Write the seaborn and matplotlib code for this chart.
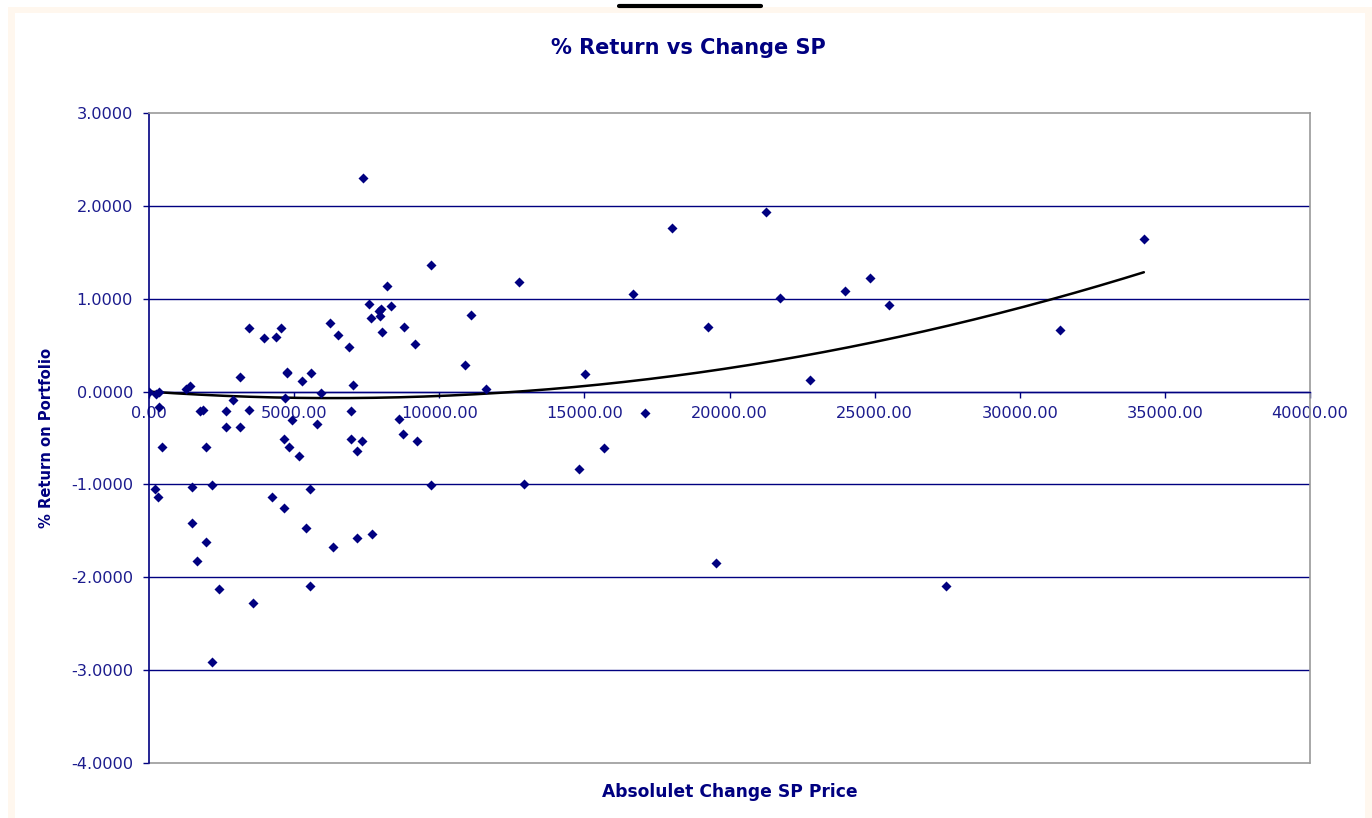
#!/usr/bin/env python3
# -*- coding: utf-8 -*-

# import modules
import numpy as np
import pandas as pd
import matplotlib
matplotlib.use("Agg")
import matplotlib.pyplot as plt
from matplotlib.patches import Rectangle
from matplotlib.lines import Line2D
from matplotlib.ticker import FormatStrFormatter
import seaborn as sns

sns.set_style("white")
plt.rcParams['font.family'] = ['DejaVu Sans']

# data: absolute change in SP price vs % return
change_sp = [
    0, 231, 352, 345, 462, 197, 310, 1283, 1403, 1483,
    1483, 1655, 1766, 1862, 1979, 1979, 2162, 2162, 2414, 2662,
    2645, 2897, 3152, 3128, 3455, 3462, 3566, 3979, 4231, 4369,
    4541, 4645, 4738, 4759, 4690, 4645, 4807, 4921, 5172, 5266,
    5576, 5772, 5931, 5531, 5403, 5531, 6241, 6345, 6507, 6903,
    7024, 6966, 6955, 7334, 7172, 7172, 7379, 7586, 7634, 7690,
    7921, 7979, 7955, 8014, 8207, 8324, 8783, 8621, 8738, 9172,
    9241, 9703, 9714, 10886, 11093, 11610, 12748, 12921, 14817, 15024,
    15690, 16669, 17093, 18014, 19255, 19541, 21266, 21724, 22759, 23990,
    24828, 25507, 27472, 31393, 34276,
]
pct_return = [
    0.000, -0.025, 0.000, -0.161, -0.595, -1.047, -1.130, 0.027, 0.065, -1.030,
    -1.418, -1.827, -0.205, -0.197, -0.595, -1.625, -1.004, -2.917, -2.124, -0.210,
    -0.377, -0.088, 0.156, -0.384, -0.197, 0.681, -2.279, 0.581, -1.130, 0.592,
    0.681, -1.256, 0.197, 0.215, -0.068, -0.509, -0.595, -0.301, -0.694, 0.113,
    0.199, -0.352, -0.011, -1.047, -1.471, -2.099, 0.739, -1.676, 0.610, 0.484,
    0.072, -0.212, -0.509, -0.535, -0.635, -1.572, 2.296, 0.940, 0.797, -1.529,
    0.872, 0.890, 0.818, 0.643, 1.138, 0.922, 0.696, -0.296, -0.452, 0.513,
    -0.536, -1.004, 1.364, 0.287, 0.826, 0.029, 1.177, -0.994, -0.836, 0.191,
    -0.606, 1.052, -0.226, 1.762, 0.700, -1.841, 1.930, 1.009, 0.129, 1.080,
    1.224, 0.936, -2.099, 0.667, 1.644,
]
y_ticks = [-4, -3, -2, -1, 0, 1, 2, 3]
x_ticks = [0, 5000, 10000, 15000, 20000, 25000, 30000, 35000, 40000]

df = pd.DataFrame({"change": change_sp, "ret": pct_return})

# order 2 trendline with the intercept set to zero
xs = np.asarray(change_sp, dtype=float)
ys = np.asarray(pct_return, dtype=float)
coef, *_ = np.linalg.lstsq(np.column_stack([xs, xs ** 2]), ys, rcond=None)
trend_x = np.linspace(xs.min(), xs.max(), 200)
trend = pd.DataFrame({"change": trend_x,
                      "ret": coef[0] * trend_x + coef[1] * trend_x ** 2})

navy = "#000080"
tick_col = "#1c1c8e"
frame_gray = "#9a9a9a"

fig = plt.figure(figsize=(13.72, 8.18), dpi=100)
fig.patch.set_facecolor("white")

# cream frame round the chart area (pixel based on 1372x818)
W, H = 1372.0, 818.0
fig.add_artist(Rectangle((8 / W, 0), (W - 8) / W, (H - 7) / H,
                         transform=fig.transFigure, facecolor="#fff7ee",
                         edgecolor="none", zorder=-10))
fig.add_artist(Rectangle((15 / W, 0), (1365 - 15) / W, (H - 13) / H,
                         transform=fig.transFigure, facecolor="white",
                         edgecolor="none", zorder=-9))
# underline of the cut-off caption at the top
fig.add_artist(Line2D([619 / W, 761 / W], [1 - 6 / H, 1 - 6 / H],
                      transform=fig.transFigure, color="black", lw=3))

ax = fig.add_axes([149 / W, 55 / H, 1161 / W, 650 / H])
ax.set_facecolor("white")

# scatter points
sns.scatterplot(data=df, x="change", y="ret", ax=ax, marker="D", s=26,
                color=navy, edgecolor=navy, linewidth=0, zorder=4, legend=False)

# trendline
sns.lineplot(data=trend, x="change", y="ret", ax=ax, color="black", lw=1.8,
             zorder=3, legend=False)

ax.set_xlim(0, 40000)
ax.set_ylim(-4, 3)
ax.set_xticks(x_ticks)
ax.set_yticks(y_ticks)
ax.xaxis.set_major_formatter(FormatStrFormatter("%.2f"))
ax.yaxis.set_major_formatter(FormatStrFormatter("%.4f"))

# horizontal gridlines
for v in y_ticks[1:-1]:
    ax.axhline(v, color=navy, lw=1.0, zorder=1)

# spines: left navy, x-axis at zero, frame gray
ax.spines["left"].set_color(navy)
ax.spines["left"].set_linewidth(1.2)
ax.spines["bottom"].set_position(("data", 0))
ax.spines["bottom"].set_color(navy)
ax.spines["bottom"].set_linewidth(1.0)
ax.spines["top"].set_color(frame_gray)
ax.spines["top"].set_linewidth(1.2)
ax.spines["right"].set_color(frame_gray)
ax.spines["right"].set_linewidth(1.2)
ax.axhline(-4, color=frame_gray, lw=1.2, clip_on=False, zorder=1)

ax.tick_params(axis="both", which="major", direction="out", length=4.5,
               width=1.0, color=navy, labelcolor=tick_col, labelsize=11.6)
ax.tick_params(axis="y", pad=7, left=True)
ax.tick_params(axis="x", pad=6, bottom=True)

ax.set_xlabel("Absolulet Change SP Price", fontsize=12.3, fontweight="bold", color=navy)
ax.set_ylabel("% Return on Portfolio", fontsize=10.6, fontweight="bold", color=navy)
ax.xaxis.set_label_coords(0.5, -0.0446)
ax.xaxis.label.set_va("center")
ax.yaxis.set_label_coords(-0.0879, 0.5)
ax.yaxis.label.set_va("center")

fig.text(688 / W, 1 - 48 / H, "% Return vs Change SP", fontsize=15,
         fontweight="bold", color=navy, ha="center", va="center")

fig.savefig("out.png", dpi=100)
